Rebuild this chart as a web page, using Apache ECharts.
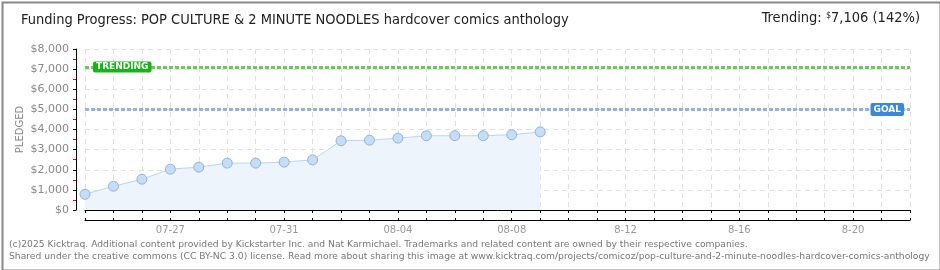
<!DOCTYPE html>
<html><head><meta charset="utf-8">
<script src="https://cdn.jsdelivr.net/npm/echarts@6/dist/echarts.min.js"></script>
<style>html,body{margin:0;padding:0;background:#fff}#c{width:940px;height:270px}</style>
</head><body><div id="c"></div>
<script>
// ---- data ----
const titleText = 'Funding Progress: POP CULTURE & 2 MINUTE NOODLES hardcover comics anthology';
const dates = ['07-24','07-25','07-26','07-27','07-28','07-29','07-30','07-31',
  '08-01','08-02','08-03','08-04','08-05','08-06','08-07','08-08','08-09','08-10',
  '08-11','08-12','08-13','08-14','08-15','08-16','08-17','08-18','08-19','08-20','08-21','08-22'];
const tickLabels = {'07-27':'07-27','07-31':'07-31','08-04':'08-04','08-08':'08-08','08-12':'8-12','08-16':'8-16','08-20':'8-20'};
const pledged = [780,1180,1530,2030,2130,2330,2330,2380,2490,3440,3470,3570,3690,3690,3690,3740,3880];
const goal = 5000;
const trending = 7106;
const trendingPct = 142;
const yTicks = {min:0, max:8000, step:1000};

const chart = echarts.init(document.getElementById('c'), null, {renderer:'canvas'});
const gray = '#888';
const fmt = v => '$' + v.toLocaleString('en-US');

const xBase = {
  type:'category', data:dates, boundaryGap:false, offset:10, position:'bottom',
  axisLine:{show:true, lineStyle:{color:'#000', width:1}},
};
chart.setOption({
  animation:false,
  backgroundColor:'#fff',
  grid:{left:85, right:30, top:49, bottom:60},
  xAxis:[
    Object.assign({}, xBase, {
      axisTick:{show:true, interval:0, length:3, lineStyle:{color:'#000'}},
      axisLabel:{interval:(i,v)=>tickLabels[v]!==undefined, formatter:v=>tickLabels[v]||'', color:'#999', fontSize:10, fontFamily:'DejaVu Sans', margin:5},
      splitLine:{show:true, interval:0, lineStyle:{color:'#e0e0e0', type:[5,4]}}
    }),
    Object.assign({}, xBase, {
      axisTick:{show:true, inside:true, interval:0, length:2, lineStyle:{color:'#000'}},
      axisLabel:{show:false}, splitLine:{show:false}
    })
  ],
  yAxis:{
    type:'value', min:yTicks.min, max:yTicks.max, interval:yTicks.step, offset:9,
    name:'PLEDGED', nameLocation:'middle', nameRotate:90, nameGap:51, nameMoveOverlap:false,
    nameTextStyle:{color:gray, fontSize:10, fontFamily:'DejaVu Sans'},
    axisLine:{show:true, lineStyle:{color:'#000'}},
    axisTick:{show:true, length:3, lineStyle:{color:'#000'}},
    minorTick:{show:true, splitNumber:2, length:3, lineStyle:{color:'#e00'}},
    axisLabel:{formatter:fmt, color:gray, fontSize:11, fontFamily:'DejaVu Sans', margin:7},
    splitLine:{show:true, lineStyle:{color:'#e0e0e0', type:[5,4]}}
  },
  series:[{
    type:'line', data:pledged, xAxisIndex:0,
    symbol:'circle', symbolSize:10,
    itemStyle:{color:'#c6ddf6', borderColor:'#93b3d8', borderWidth:1},
    lineStyle:{color:'#bcd6f2', width:1},
    areaStyle:{color:'#edf4fc', opacity:1},
    markLine:{
      silent:true, symbol:'none',
      data:[
        {yAxis:trending, lineStyle:{color:'#66cc55', width:3, type:[4,2]},
          label:{show:true, formatter:'TRENDING', position:'insideStart', distance:8,
            color:'#fff', backgroundColor:'#18b318', fontSize:9, fontWeight:'bold', fontFamily:'DejaVu Sans',
            padding:[1,3,1,3], borderRadius:2}},
        {yAxis:goal, lineStyle:{color:'#8fb4e0', width:3, type:[4,2]},
          label:{show:true, formatter:'GOAL', position:'insideEnd', distance:6,
            color:'#fff', backgroundColor:'#3b88d8', fontSize:9, fontWeight:'bold', fontFamily:'DejaVu Sans',
            padding:[2,3,2,3], borderRadius:2}}
      ]
    }
  }],
  graphic:[
    {type:'text', left:21, top:13, style:{text:titleText, fill:'#222', font:'condensed 14.5px "DejaVu Sans"'}},
    {type:'text', right:20, top:11, style:{
      text:'{a|Trending: }{s|$}{a|' + trending.toLocaleString('en-US') + ' (' + trendingPct + '%)}',
      rich:{a:{font:'condensed 14.5px "DejaVu Sans"', fill:'#222', verticalAlign:'bottom'},
            s:{font:'condensed 9px "DejaVu Sans"', fill:'#222', verticalAlign:'top', padding:[0,0,6,0]}}}},
    {type:'text', left:9, top:239, style:{
      text:'(c)2025 Kicktraq. Additional content provided by Kickstarter Inc. and Nat Karmichael. Trademarks and related content are owned by their respective companies.\nShared under the creative commons (CC BY-NC 3.0) license. Read more about sharing this image at www.kicktraq.com/projects/comicoz/pop-culture-and-2-minute-noodles-hardcover-comics-anthology',
      fill:'#777', font:'9.2px "DejaVu Sans", sans-serif', lineHeight:12}},
    {type:'rect', left:0, top:0, z:100, shape:{x:0.5, y:0.5, width:938, height:268}, style:{fill:null, stroke:'#888', lineWidth:2}}
  ]
});
</script></body></html>
